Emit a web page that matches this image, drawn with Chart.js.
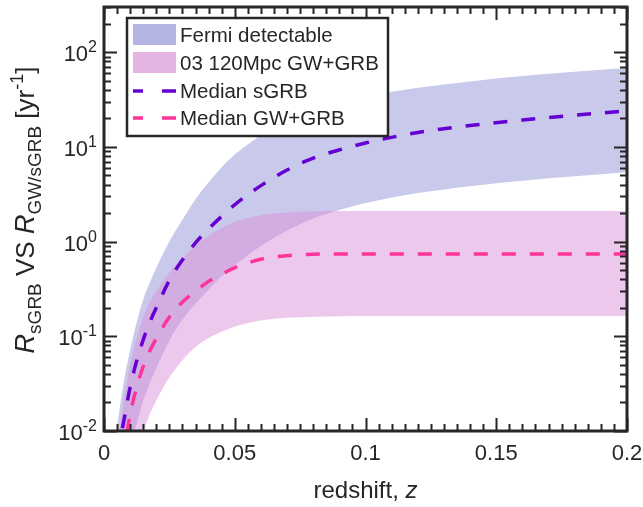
<!DOCTYPE html>
<html>
<head>
<meta charset="utf-8">
<script src="https://cdn.jsdelivr.net/npm/chart.js@4"></script>
<style>
  html, body { margin: 0; padding: 0; background: #fff; }
  #wrap { width: 643px; height: 507px; }
</style>
</head>
<body>
<div id="wrap"><canvas id="chart" width="643" height="507"></canvas></div>
<script>
// redshift grid shared by every curve
const redshift = [0.005, 0.0075, 0.01, 0.0125, 0.015, 0.0175, 0.02, 0.025, 0.03, 0.035, 0.04, 0.045,
  0.05, 0.06, 0.07, 0.08, 0.09, 0.1, 0.12, 0.14, 0.16, 0.18, 0.2];

// rates in yr^-1
const medianSGRB = [0.0055, 0.0125, 0.029, 0.055, 0.092, 0.14, 0.2, 0.39, 0.64, 0.97, 1.36, 1.85,
  2.45, 3.9, 5.7, 7.6, 9.3, 11, 14.2, 16.8, 19.2, 21.6, 24];
const fermiUpper = [0.011, 0.032, 0.072, 0.14, 0.245, 0.37, 0.53, 1.0, 1.7, 2.8, 4.2, 6.1,
  8.3, 13.2, 19, 24, 29, 34, 42, 49, 56, 62, 68];
const fermiLower = [0.0013, 0.003, 0.0068, 0.012, 0.021, 0.032, 0.046, 0.09, 0.15, 0.22, 0.31, 0.43,
  0.56, 0.9, 1.3, 1.75, 2.15, 2.55, 3.25, 3.85, 4.4, 4.9, 5.4];
const medianGWGRB = [0.0025, 0.006, 0.015, 0.029, 0.048, 0.07, 0.095, 0.16, 0.23, 0.30, 0.38, 0.45,
  0.53, 0.65, 0.71, 0.735, 0.74, 0.74, 0.74, 0.74, 0.74, 0.74, 0.74];
const o3Upper = [0.006, 0.02, 0.05, 0.095, 0.16, 0.23, 0.3, 0.47, 0.67, 0.9, 1.15, 1.4,
  1.62, 1.9, 2.03, 2.08, 2.1, 2.1, 2.1, 2.1, 2.1, 2.1, 2.1];
const o3Lower = [0.0006, 0.0015, 0.0033, 0.0062, 0.0098, 0.015, 0.021, 0.037, 0.056, 0.077, 0.096, 0.112,
  0.127, 0.147, 0.157, 0.161, 0.163, 0.164, 0.164, 0.164, 0.164, 0.164, 0.164];

const legendLabels = ['Fermi detectable', '03 120Mpc GW+GRB', 'Median sGRB', 'Median GW+GRB'];
const xTicks = [0, 0.05, 0.1, 0.15, 0.2];
const xTickLabels = ['0', '0.05', '0.1', '0.15', '0.2'];
const xMinorStep = 0.005;
const yTickExponents = [-2, -1, 0, 1, 2];
const Y_MIN = 1e-2, Y_MAX = 300;

const INK = '#262626';
const FONT = '"Liberation Sans", Arial, Helvetica, sans-serif';
const PURPLE = 'rgb(102,0,210)';
const PINK = 'rgb(255,51,153)';
const FERMI_FILL = 'rgba(147,147,215,0.5)';
const O3_FILL = 'rgba(217,145,217,0.5)';

const pts = (vals) => redshift.map((z, i) => ({ x: z, y: vals[i] }));

function band(vals, fill, order) {
  return {
    data: pts(vals), backgroundColor: fill, borderWidth: 0, pointRadius: 0,
    fill: fill ? '+1' : false, order, cubicInterpolationMode: 'monotone',
  };
}

function median(vals, color, order) {
  return {
    data: pts(vals), borderColor: color, borderWidth: 3.5, borderDash: [14, 14],
    pointRadius: 0, fill: false, order, cubicInterpolationMode: 'monotone',
  };
}

function fontOf(p) {
  return (p.italic ? 'italic ' : '') + p.size + 'px ' + FONT;
}

function richWidth(ctx, parts) {
  let w = 0;
  for (const p of parts) { ctx.font = fontOf(p); w += ctx.measureText(p.text).width; }
  return w;
}

function drawRich(ctx, parts, x, y, align) {
  let cx = x;
  if (align === 'center') cx -= richWidth(ctx, parts) / 2;
  else if (align === 'right') cx -= richWidth(ctx, parts);
  ctx.textAlign = 'left';
  ctx.textBaseline = 'alphabetic';
  for (const p of parts) {
    ctx.font = fontOf(p);
    ctx.fillText(p.text, cx, y + (p.dy || 0));
    cx += ctx.measureText(p.text).width;
  }
}

// frame, inward ticks, tick labels, axis titles and the boxed legend
const axesDecor = {
  id: 'axesDecor',
  afterDraw(chart) {
    const { ctx, chartArea: a, scales: { x, y } } = chart;
    ctx.save();
    ctx.strokeStyle = INK;
    ctx.fillStyle = INK;
    ctx.lineWidth = 2;

    // x ticks, bottom and top
    ctx.beginPath();
    for (let i = 0; i <= Math.round(0.2 / xMinorStep); i++) {
      const v = i * xMinorStep;
      const px = Math.round(x.getPixelForValue(v)) + 0.5;
      const major = xTicks.some((t) => Math.abs(t - v) < 1e-9);
      const len = major ? 13 : 7;
      ctx.moveTo(px, a.bottom); ctx.lineTo(px, a.bottom - len);
      ctx.moveTo(px, a.top); ctx.lineTo(px, a.top + len);
    }
    // y ticks, left and right
    for (let e = -2; e <= 2; e++) {
      for (let m = 1; m <= 9; m++) {
        const v = m * Math.pow(10, e);
        if (v > Y_MAX) break;
        const py = Math.round(y.getPixelForValue(v)) + 0.5;
        const len = m === 1 ? 13 : 7;
        ctx.moveTo(a.left, py); ctx.lineTo(a.left + len, py);
        ctx.moveTo(a.right, py); ctx.lineTo(a.right - len, py);
      }
    }
    ctx.stroke();

    ctx.lineWidth = 3;
    ctx.strokeRect(a.left, a.top, a.right - a.left, a.bottom - a.top);

    // tick labels
    ctx.font = '22px ' + FONT;
    ctx.textAlign = 'center';
    ctx.textBaseline = 'alphabetic';
    xTicks.forEach((t, i) => ctx.fillText(xTickLabels[i], x.getPixelForValue(t), 460));
    yTickExponents.forEach((e) => {
      const py = y.getPixelForValue(Math.pow(10, e));
      drawRich(ctx, [
        { text: '10', size: 22 },
        { text: String(e), size: 16, dy: -9 },
      ], 97, py + 9, 'right');
    });

    // axis titles
    drawRich(ctx, [
      { text: 'redshift, ', size: 24 },
      { text: 'z', size: 24, italic: true },
    ], (a.left + a.right) / 2, 498, 'center');

    ctx.save();
    ctx.translate(34, 210);
    ctx.rotate(-Math.PI / 2);
    drawRich(ctx, [
      { text: 'R', size: 27, italic: true },
      { text: 'sGRB', size: 19, dy: 7 },
      { text: ' VS ', size: 26 },
      { text: 'R', size: 27, italic: true },
      { text: 'GW/sGRB', size: 19, dy: 7 },
      { text: ' [yr', size: 26 },
      { text: '-1', size: 18, dy: -11 },
      { text: ']', size: 26 },
    ], 0, 0, 'center');
    ctx.restore();

    // legend
    const lx = 127, ly = 18, lw = 261, lh = 118;
    ctx.fillStyle = '#fff';
    ctx.fillRect(lx, ly, lw, lh);
    ctx.lineWidth = 2.5;
    ctx.strokeRect(lx, ly, lw, lh);
    const rows = [35, 63, 91, 118];
    ctx.fillStyle = 'rgb(180,180,228)';
    ctx.fillRect(133, rows[0] - 11, 43, 21);
    ctx.fillStyle = 'rgb(228,180,226)';
    ctx.fillRect(133, rows[1] - 11, 43, 21);
    [PURPLE, PINK].forEach((c, i) => {
      ctx.strokeStyle = c;
      ctx.lineWidth = 3.5;
      ctx.setLineDash([10, 19, 14]);
      ctx.beginPath();
      ctx.moveTo(133, rows[2 + i]);
      ctx.lineTo(176, rows[2 + i]);
      ctx.stroke();
    });
    ctx.setLineDash([]);
    ctx.fillStyle = INK;
    ctx.font = '20.5px ' + FONT;
    ctx.textAlign = 'left';
    ctx.textBaseline = 'middle';
    legendLabels.forEach((t, i) => ctx.fillText(t, 180, rows[i] + 1));
    ctx.restore();
  },
};

new Chart(document.getElementById('chart'), {
  type: 'line',
  data: {
    datasets: [
      band(fermiUpper, FERMI_FILL, 4),
      band(fermiLower, null, 4),
      band(o3Upper, O3_FILL, 3),
      band(o3Lower, null, 3),
      median(medianSGRB, PURPLE, 1),
      median(medianGWGRB, PINK, 0),
    ],
  },
  options: {
    responsive: false,
    animation: false,
    devicePixelRatio: 1,
    layout: { padding: { top: 7, right: 16, left: 0, bottom: 0 } },
    plugins: { legend: { display: false }, tooltip: { enabled: false } },
    scales: {
      x: {
        type: 'linear', min: 0, max: 0.2,
        grid: { display: false }, border: { display: false }, ticks: { display: false },
        afterFit: (s) => { s.height = 76; },
      },
      y: {
        type: 'logarithmic', min: Y_MIN, max: Y_MAX,
        grid: { display: false }, border: { display: false }, ticks: { display: false },
        afterFit: (s) => { s.width = 104; },
      },
    },
  },
  plugins: [axesDecor],
});
</script>
</body>
</html>
